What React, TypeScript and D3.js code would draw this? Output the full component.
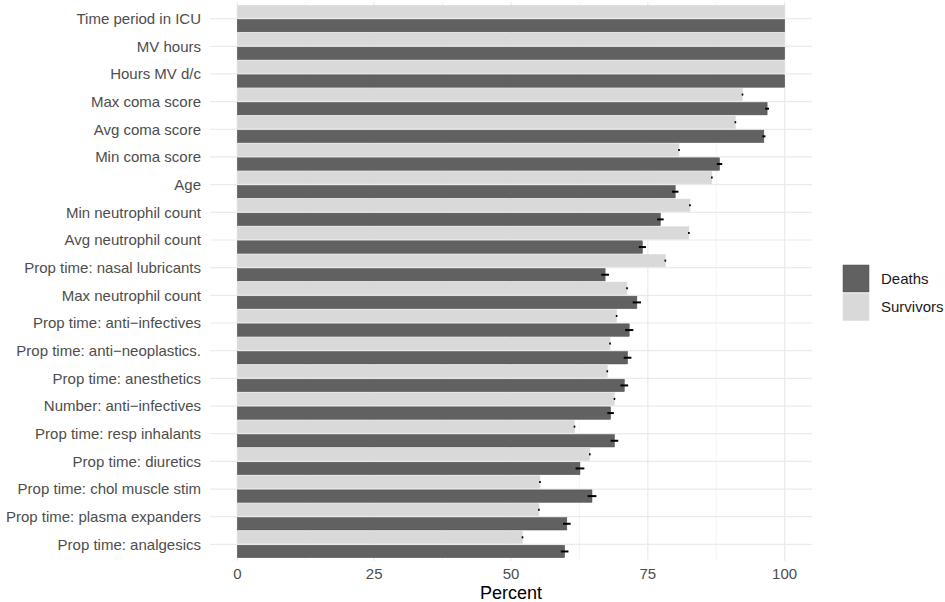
import * as d3 from 'd3'

// ── data ────────────────────────────────────────────────────────────────────
const categories = [
  'Time period in ICU', 'MV hours', 'Hours MV d/c', 'Max coma score', 'Avg coma score',
  'Min coma score', 'Age', 'Min neutrophil count', 'Avg neutrophil count',
  'Prop time: nasal lubricants', 'Max neutrophil count', 'Prop time: anti\u2212infectives',
  'Prop time: anti\u2212neoplastics.', 'Prop time: anesthetics', 'Number: anti\u2212infectives',
  'Prop time: resp inhalants', 'Prop time: diuretics', 'Prop time: chol muscle stim',
  'Prop time: plasma expanders', 'Prop time: analgesics',
]
const survivors = [100, 100, 100, 92.3, 91.0, 80.7, 86.7, 82.7, 82.5, 78.2, 71.2, 69.3, 68.1, 67.6, 68.9, 61.6, 64.4, 55.3, 55.1, 52.1]
const deaths    = [100, 100, 100, 96.8, 96.2, 88.1, 80.0, 77.3, 74.0, 67.2, 73.0, 71.6, 71.3, 70.7, 68.2, 68.9, 62.6, 64.8, 60.2, 59.8]
const survErr   = [0, 0, 0, 0.15, 0.15, 0.15, 0.15, 0.15, 0.15, 0.15, 0.15, 0.15, 0.15, 0.15, 0.15, 0.15, 0.15, 0.15, 0.15, 0.15]
const deathErr  = [0, 0, 0, 0.35, 0.3, 0.5, 0.6, 0.6, 0.65, 0.7, 0.75, 0.75, 0.7, 0.7, 0.6, 0.7, 0.8, 0.8, 0.7, 0.7]
const groups    = ['Survivors', 'Deaths']
const legendKeys = ['Deaths', 'Survivors']
const xTicks    = [0, 25, 50, 75, 100]
const xMinor    = [12.5, 37.5, 62.5, 87.5]

// ── layout / style ──────────────────────────────────────────────────────────
const W = 945, H = 602
const P = { left: 210, right: 812, top: 2, bottom: 561 }
const FILL: Record<string, string> = { Deaths: '#616161', Survivors: '#d9d9d9' }
const STROKE: Record<string, string> = { Deaths: '#4f4f4f', Survivors: '#d9d9d9' }
const GRID = '#ebebeb'
const TXT  = '#4d4d4d'
const FONT = '"Liberation Sans", Arial, Helvetica, sans-serif'
const FS   = 15

export default function App() {
  const x = d3.scaleLinear().domain([-5, 105]).range([P.left, P.right])
  const y = d3.scalePoint<string>().domain(categories).range([P.top, P.bottom]).padding(0.6)
  const step = y.step()
  const sub = d3.scaleBand<string>().domain(groups).range([-step * 0.48, step * 0.48]).paddingInner(0.12)

  const rows = categories.map((c, i) => ({
    c,
    vals: [
      { g: 'Survivors', v: survivors[i], e: survErr[i] },
      { g: 'Deaths',    v: deaths[i],    e: deathErr[i] },
    ],
  }))

  return (
    <svg width={W} height={H} viewBox={`0 0 ${W} ${H}`}
      style={{ position: 'absolute', left: 0, top: 0, background: '#fff', fontFamily: FONT }}>
      {/* grid */}
      {xMinor.map(t => (
        <line key={'m' + t} x1={x(t)} x2={x(t)} y1={P.top} y2={P.bottom} stroke={GRID} strokeWidth={0.6} />
      ))}
      {xTicks.map(t => (
        <line key={'M' + t} x1={x(t)} x2={x(t)} y1={P.top} y2={P.bottom} stroke={GRID} strokeWidth={1.2} />
      ))}
      {categories.map(c => (
        <line key={'h' + c} x1={P.left} x2={P.right} y1={y(c)} y2={y(c)} stroke={GRID} strokeWidth={1.2} />
      ))}

      {/* bars */}
      {rows.map(r => r.vals.map(d => (
        <rect key={r.c + d.g}
          x={x(0)} width={x(d.v) - x(0)}
          y={y(r.c)! + sub(d.g)!} height={sub.bandwidth()}
          fill={FILL[d.g]} stroke={STROKE[d.g]} strokeWidth={0.5} />
      )))}

      {/* error bars */}
      {rows.map(r => r.vals.filter(d => d.e > 0).map(d => {
        const cy = y(r.c)! + sub(d.g)! + sub.bandwidth() / 2
        return (
          <line key={'e' + r.c + d.g} x1={x(d.v - d.e)} x2={x(d.v + d.e)} y1={cy} y2={cy}
            stroke="#000" strokeWidth={2} />
        )
      }))}

      {/* y axis labels */}
      {categories.map(c => (
        <text key={'t' + c} x={201} y={y(c)} dy="0.35em" textAnchor="end" fontSize={FS} fill={TXT}>{c}</text>
      ))}

      {/* x axis */}
      {xTicks.map(t => (
        <text key={'xt' + t} x={x(t)} y={579} textAnchor="middle" fontSize={FS} fill={TXT}>{t}</text>
      ))}
      <text x={(P.left + P.right) / 2} y={599} textAnchor="middle" fontSize={18} fill="#000">Percent</text>

      {/* legend */}
      {legendKeys.map((k, i) => (
        <g key={'lg' + k} transform={`translate(843,${265 + i * 28.5})`}>
          <rect width={26} height={27} fill={FILL[k]} stroke={STROKE[k]} strokeWidth={0.5} />
          <text x={38} y={13.5} dy="0.35em" fontSize={FS} fill="#1a1a1a">{k}</text>
        </g>
      ))}
    </svg>
  )
}
